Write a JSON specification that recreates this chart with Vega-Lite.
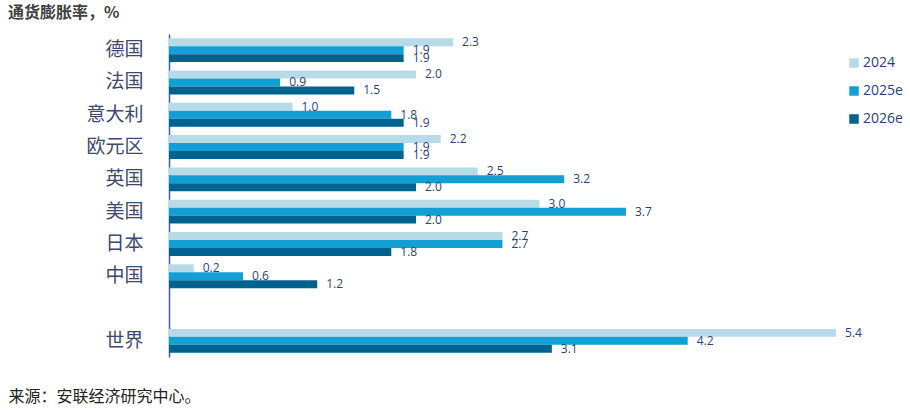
{
  "$schema": "https://vega.github.io/schema/vega-lite/v6.json",
  "width": 741,
  "height": 323,
  "autosize": {"type": "none"},
  "padding": {"left": 169, "top": 34, "right": 0, "bottom": 57},
  "background": "white",
  "view": {"stroke": null},
  "title": {
    "text": "通货膨胀率，%",
    "anchor": "start",
    "frame": "group",
    "dx": -161,
    "offset": 13,
    "font": "Noto Sans CJK SC",
    "fontSize": 16,
    "fontWeight": "bold",
    "color": "#404040"
  },
  "data": {
    "values": [
      {"country": "德国", "series": "2024", "value": 2.3},
      {"country": "德国", "series": "2025e", "value": 1.9},
      {"country": "德国", "series": "2026e", "value": 1.9},
      {"country": "法国", "series": "2024", "value": 2.0},
      {"country": "法国", "series": "2025e", "value": 0.9},
      {"country": "法国", "series": "2026e", "value": 1.5},
      {"country": "意大利", "series": "2024", "value": 1.0},
      {"country": "意大利", "series": "2025e", "value": 1.8},
      {"country": "意大利", "series": "2026e", "value": 1.9},
      {"country": "欧元区", "series": "2024", "value": 2.2},
      {"country": "欧元区", "series": "2025e", "value": 1.9},
      {"country": "欧元区", "series": "2026e", "value": 1.9},
      {"country": "英国", "series": "2024", "value": 2.5},
      {"country": "英国", "series": "2025e", "value": 3.2},
      {"country": "英国", "series": "2026e", "value": 2.0},
      {"country": "美国", "series": "2024", "value": 3.0},
      {"country": "美国", "series": "2025e", "value": 3.7},
      {"country": "美国", "series": "2026e", "value": 2.0},
      {"country": "日本", "series": "2024", "value": 2.7},
      {"country": "日本", "series": "2025e", "value": 2.7},
      {"country": "日本", "series": "2026e", "value": 1.8},
      {"country": "中国", "series": "2024", "value": 0.2},
      {"country": "中国", "series": "2025e", "value": 0.6},
      {"country": "中国", "series": "2026e", "value": 1.2},
      {"country": "世界", "series": "2024", "value": 5.4},
      {"country": "世界", "series": "2025e", "value": 4.2},
      {"country": "世界", "series": "2026e", "value": 3.1}
    ]
  },
  "encoding": {
    "y": {
      "field": "country",
      "type": "nominal",
      "scale": {
        "domain": ["德国", "法国", "意大利", "欧元区", "英国", "美国", "日本", "中国", " ", "世界"],
        "paddingInner": 0.26,
        "paddingOuter": 0.13
      },
      "axis": {
        "title": null,
        "ticks": false,
        "labelPadding": 26,
        "labelFont": "Noto Sans CJK SC",
        "labelFontSize": 19,
        "labelColor": "#3b4a6e",
        "domainColor": "#3e5fa0",
        "domainWidth": 1.5
      }
    },
    "yOffset": {
      "field": "series",
      "type": "nominal",
      "sort": ["2024", "2025e", "2026e"],
      "scale": {"paddingInner": 0, "paddingOuter": 0}
    },
    "x": {
      "field": "value",
      "type": "quantitative",
      "scale": {"domain": [0, 6], "nice": false},
      "axis": {
        "labels": false,
        "ticks": false,
        "domain": false,
        "grid": false,
        "title": "来源：安联经济研究中心。",
        "titleAnchor": "start",
        "titleAlign": "left",
        "titleX": -161,
        "titleY": 44,
        "titleBaseline": "alphabetic",
        "titleFont": "Noto Sans CJK SC",
        "titleFontSize": 16,
        "titleFontWeight": "normal",
        "titleColor": "#222222"
      }
    }
  },
  "layer": [
    {
      "mark": {"type": "bar"},
      "encoding": {
        "color": {
          "field": "series",
          "type": "nominal",
          "sort": ["2024", "2025e", "2026e"],
          "scale": {
            "domain": ["2024", "2025e", "2026e"],
            "range": ["#b6dbe7", "#129fd4", "#00628f"]
          },
          "legend": {
            "title": null,
            "orient": "none",
            "legendX": 678,
            "legendY": 22,
            "symbolType": "square",
            "symbolSize": 90,
            "symbolStrokeWidth": 0,
            "symbolOffset": 0,
            "labelFont": "Open Sans",
            "labelFontSize": 14,
            "labelColor": "#2b3f7e",
            "labelOffset": 2,
            "rowPadding": 14
          }
        }
      }
    },
    {
      "mark": {
        "type": "text",
        "align": "left",
        "baseline": "middle",
        "dx": 9,
        "font": "Open Sans",
        "fontSize": 12,
        "color": "#2b3f7e"
      },
      "encoding": {
        "text": {"field": "value", "type": "quantitative", "format": ".1f"}
      }
    }
  ]
}
